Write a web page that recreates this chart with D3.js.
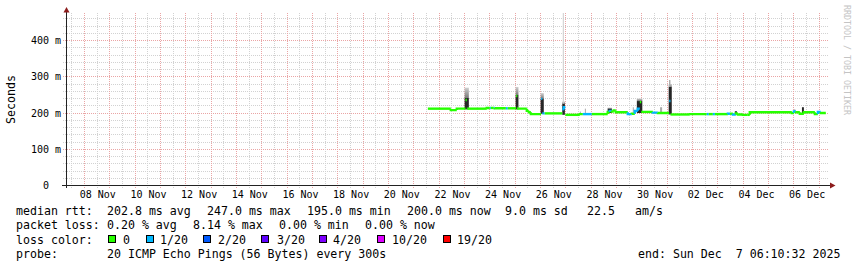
<!DOCTYPE html>
<html><head><meta charset="utf-8">
<script src="https://cdn.jsdelivr.net/npm/d3@7"></script>
<style>
body{margin:0;background:#fff}
svg{display:block}
text{font-family:"DejaVu Sans Mono",monospace;white-space:pre}
</style></head><body>
<svg id="chart" width="857" height="267"></svg>
<script>
// ---------------- DATA ----------------
const startTime = "2025-11-07T06:10:32";
const endTime   = "2025-12-07T06:10:32";

// median RTT steps (ms) and packet loss (of 20) per step
const medTime = [
 "2025-11-21T13:10","2025-11-22T10:55","2025-11-22T16:35","2025-11-23T00:50","2025-11-23T02:05",
 "2025-11-23T03:00","2025-11-23T21:00","2025-11-23T23:55","2025-11-24T00:50","2025-11-24T03:40",
 "2025-11-24T04:35","2025-11-24T15:05","2025-11-24T16:55","2025-11-25T00:50","2025-11-25T01:55",
 "2025-11-25T02:50","2025-11-25T10:55","2025-11-25T12:50","2025-11-25T14:45","2025-11-26T00:30",
 "2025-11-26T01:35","2025-11-26T03:00","2025-11-26T03:55","2025-11-26T20:35","2025-11-26T22:00",
 "2025-11-26T23:25","2025-11-27T13:10","2025-11-27T16:00","2025-11-28T00:30","2025-11-28T15:35",
 "2025-11-28T17:30","2025-11-28T19:25","2025-11-28T21:20","2025-11-28T23:15","2025-11-29T10:35",
 "2025-11-29T14:25","2025-11-29T17:15","2025-11-29T20:05","2025-11-29T22:00","2025-11-29T23:20",
 "2025-11-30T10:20","2025-11-30T15:05","2025-12-01T01:50","2025-12-01T03:00","2025-12-01T21:20",
 "2025-12-02T13:25","2025-12-02T15:20","2025-12-02T19:10","2025-12-02T21:05","2025-12-03T09:25",
 "2025-12-03T11:20","2025-12-03T14:10","2025-12-03T17:00","2025-12-03T18:55","2025-12-03T23:40",
 "2025-12-04T04:15","2025-12-04T06:10","2025-12-05T22:00","2025-12-06T00:00","2025-12-06T01:50",
 "2025-12-06T05:35","2025-12-06T09:25","2025-12-06T19:50","2025-12-06T22:40","2025-12-07T01:25"
];
const medValue = [
 212,208,212,236,212, 212,214,214,214,214, 213,213,213,247,214,
 212,206,202,197,239, 199,199,199,210,216, 195,197,197,197,203,
 206,204,207,202,197, 198,206,212,230,203, 201,200,233,196,197,
 197,197,197,197,198, 198,196,199,196,195, 195,202,200,204,202,
 198,202,197,203,200
];
const medLoss = [
 0,0,0,0,0, 0,0,1,0,1, 0,1,0,0,0,
 0,0,0,0,1, 1,1,0,1,1, 0,0,1,0,0,
 1,0,0,0,1, 0,1,1,0,0, 1,0,1,0,0,
 1,0,1,0,1, 0,1,0,0,0, 0,0,0,1,0,
 0,0,0,1,0
];

// smoke (ping spread) bursts: time span, low, top of dark core, top of light smoke (ms)
const smokeStart = ["2025-11-23T00:00","2025-11-25T00:20","2025-11-26T00:00","2025-11-26T20:30","2025-11-26T21:00",
 "2025-11-27T13:10","2025-11-27T17:55","2025-11-28T15:30","2025-11-29T15:20","2025-11-29T19:10",
 "2025-11-30T17:10","2025-12-01T01:20","2025-12-01T01:40","2025-12-03T16:00","2025-12-06T00:00","2025-12-06T07:35"];
const smokeEnd   = ["2025-11-23T04:00","2025-11-25T03:00","2025-11-26T03:00","2025-11-26T23:00","2025-11-26T22:00",
 "2025-11-27T14:05","2025-11-27T18:50","2025-11-28T19:30","2025-11-29T16:15","2025-11-30T00:20",
 "2025-11-30T19:05","2025-12-01T04:15","2025-12-01T03:00","2025-12-03T18:00","2025-12-06T01:25","2025-12-06T09:25"];
const smokeLow   = [210,210,198,195,226, 197,197,200,198,200, 200,196,272,196,202,200];
const smokeDark  = [242,250,240,226,226, 197,197,212,198,233, 200,272,272,205,202,216];
const smokeHigh  = [270,272,255,232,476, 204,212,215,216,240, 216,280,291,205,210,216];

// axes
const yTicks = [0,100,200,300,400];
const xTickDays = ["2025-11-08","2025-11-10","2025-11-12","2025-11-14","2025-11-16","2025-11-18","2025-11-20",
 "2025-11-22","2025-11-24","2025-11-26","2025-11-28","2025-11-30","2025-12-02","2025-12-04","2025-12-06"];

// legend
const lossLevels = ["0","1/20","2/20","3/20","4/20","10/20","19/20"];
const lossColors = ["#26ff00","#00b8ff","#0059ff","#5e00ff","#7e00ff","#dd00ff","#ff0000"];
const lossValueIndex = {0:0,1:1,2:2,3:3,4:4,10:5,19:6};
const rttStats = ["202.8 ms avg","247.0 ms max","195.0 ms min","200.0 ms now","9.0 ms sd","22.5","am/s"];
const lossStats = ["0.20 % avg","8.14 % max","0.00 % min","0.00 % now"];
const probeText = "20 ICMP Echo Pings (56 Bytes) every 300s";
const endText = "end: Sun Dec\u00a0\u00a07 06:10:32 2025";

// ---------------- DRAW ----------------
const pT = d3.timeParse("%Y-%m-%dT%H:%M");
const pS = d3.timeParse("%Y-%m-%dT%H:%M:%S");
const pD = d3.timeParse("%Y-%m-%d");
const t0 = pS(startTime), t1 = pS(endTime);

const svg = d3.select("#chart");
svg.append("rect").attr("width",857).attr("height",267).attr("fill","#fff");

const x = d3.scaleTime().domain([t0,t1]).range([65.8,825.8]);
const y = d3.scaleLinear().domain([0,476]).range([185.5,13]);
const cx = v => Math.round(x(v)-0.5)+0.5;
const cy = v => Math.round(y(v)-0.5)+0.5;

const grid = svg.append("g").attr("shape-rendering","crispEdges");
d3.range(20,476,20).forEach(v=>{
  const major = v%100===0;
  grid.append("line").attr("x1",63).attr("x2",829).attr("y1",cy(v)).attr("y2",cy(v))
    .attr("stroke",major?"#eaa5a5":"#d2d2d2").attr("stroke-dasharray","1,1");
});
d3.timeHour.every(12).range(t0,t1).forEach(t=>{
  const major = t.getHours()===0;
  grid.append("line").attr("x1",cx(t)).attr("x2",cx(t)).attr("y1",13).attr("y2",188)
    .attr("stroke",major?"#eaa5a5":"#d2d2d2").attr("stroke-dasharray","1,1");
});

svg.append("clipPath").attr("id","plot").append("rect").attr("x",66).attr("y",13).attr("width",761).attr("height",173);
const plot = svg.append("g").attr("clip-path","url(#plot)");

// smoke
const grad = svg.append("defs").append("linearGradient").attr("id","smk").attr("x1",0).attr("x2",0).attr("y1",0).attr("y2",1);
grad.append("stop").attr("offset","0").attr("stop-color","#d0d0d0");
grad.append("stop").attr("offset","1").attr("stop-color","#7a7a7a");
smokeStart.forEach((s,i)=>{
  const xa = x(pT(s)), xb = x(pT(smokeEnd[i]));
  const core = smokeDark[i] > smokeLow[i];
  const tall = smokeHigh[i]-smokeDark[i] > 100;
  if (smokeHigh[i] > smokeDark[i]) {
    plot.append("rect").attr("x",xa).attr("width",Math.max(1,xb-xa))
      .attr("y",y(smokeHigh[i])).attr("height",y(smokeDark[i])-y(smokeHigh[i]))
      .attr("fill", tall ? "#cfcfcf" : (core ? "url(#smk)" : "#aaaaaa"));
  }
  if (core) {
    plot.append("rect").attr("x",xa).attr("width",Math.max(1,xb-xa))
      .attr("y",y(smokeDark[i])).attr("height",y(smokeLow[i])-y(smokeDark[i]))
      .attr("fill","#262626");
  }
});

// median line, colored by loss (vertical joins only for small steps)
const line = d3.line().x(d=>x(d.t)).y(d=>y(d.v)).curve(d3.curveStepAfter);
medTime.forEach((s,i)=>{
  const ta = pT(s);
  const tb = i+1<medTime.length ? pT(medTime[i+1]) : t1;
  const pts = [];
  if (i>0 && Math.abs(medValue[i]-medValue[i-1])<=8) pts.push({t:ta, v:medValue[i-1]});
  pts.push({t:ta, v:medValue[i]});
  pts.push({t:tb, v:medValue[i]});
  plot.append("path").attr("d",line(pts)).attr("fill","none")
    .attr("stroke",lossColors[lossValueIndex[medLoss[i]]]).attr("stroke-width",2.4);
});

// axes lines
svg.append("line").attr("x1",62).attr("x2",831).attr("y1",185.5).attr("y2",185.5).attr("stroke","#222").attr("shape-rendering","crispEdges");
svg.append("line").attr("x1",66.5).attr("x2",66.5).attr("y1",188).attr("y2",11).attr("stroke","#222").attr("shape-rendering","crispEdges");
svg.append("path").attr("d","M63.5,12.5L69.5,12.5L66.5,7Z").attr("fill","#8c1c1c");
svg.append("path").attr("d","M830,182.5L830,188.5L835.5,185.5Z").attr("fill","#8c1c1c");

const xAx = d3.axisBottom(x).tickValues(xTickDays.map(d=>d3.timeHour.offset(pD(d),12)))
  .tickFormat(d3.timeFormat("%d %b")).tickSize(0).tickPadding(5.4);
const gx = svg.append("g").attr("transform","translate(0,185.5)").call(xAx);
gx.select(".domain").remove();
gx.selectAll("text").attr("font-size","10px").attr("font-family","DejaVu Sans Mono").attr("fill","#000");

const yAx = d3.axisLeft(y).tickValues(yTicks).tickFormat(v=> v===0 ? "0\u00a0\u00a0" : v+" m").tickSize(0).tickPadding(5.5);
const gy = svg.append("g").attr("transform","translate(66.5,0)").call(yAx);
gy.select(".domain").remove();
gy.selectAll("text").attr("font-size","10px").attr("font-family","DejaVu Sans Mono").attr("fill","#000");

svg.append("text").attr("transform","translate(15,99.5) rotate(-90)").attr("text-anchor","middle")
  .attr("font-size","11.6px").text("Seconds");

svg.append("text").attr("transform","translate(844,5) rotate(90)").attr("font-size","8.3px")
  .attr("fill","#c4c4c4").text("RRDTOOL / TOBI OETIKER");

// legend
const L = svg.append("g").attr("font-size","11.6px").attr("fill","#000");
const txt = (xx,yy,s)=>L.append("text").attr("x",xx).attr("y",yy).attr("xml:space","preserve").text(s);
txt(16,215,"median rtt:");
[107,207,307,407,505,587,635].forEach((xx,i)=>txt(xx,215,rttStats[i]));
txt(16,229,"packet loss:");
[107,193,279,365].forEach((xx,i)=>txt(xx,229,lossStats[i]));
txt(16,243.5,"loss color:");
const boxX = [108,146,203,261,319,377,443];
const labX = [123,160,218,277,333,392,457];
lossLevels.forEach((l,i)=>{
  L.append("rect").attr("x",boxX[i]+0.5).attr("y",235.5).attr("width",7).attr("height",7)
    .attr("fill",lossColors[i]).attr("stroke","#000").attr("stroke-width",1).attr("shape-rendering","crispEdges");
  txt(labX[i],243.5,l);
});
txt(16,257.5,"probe:");
txt(107,257.5,probeText);
txt(638,257.5,endText);
</script></body></html>
